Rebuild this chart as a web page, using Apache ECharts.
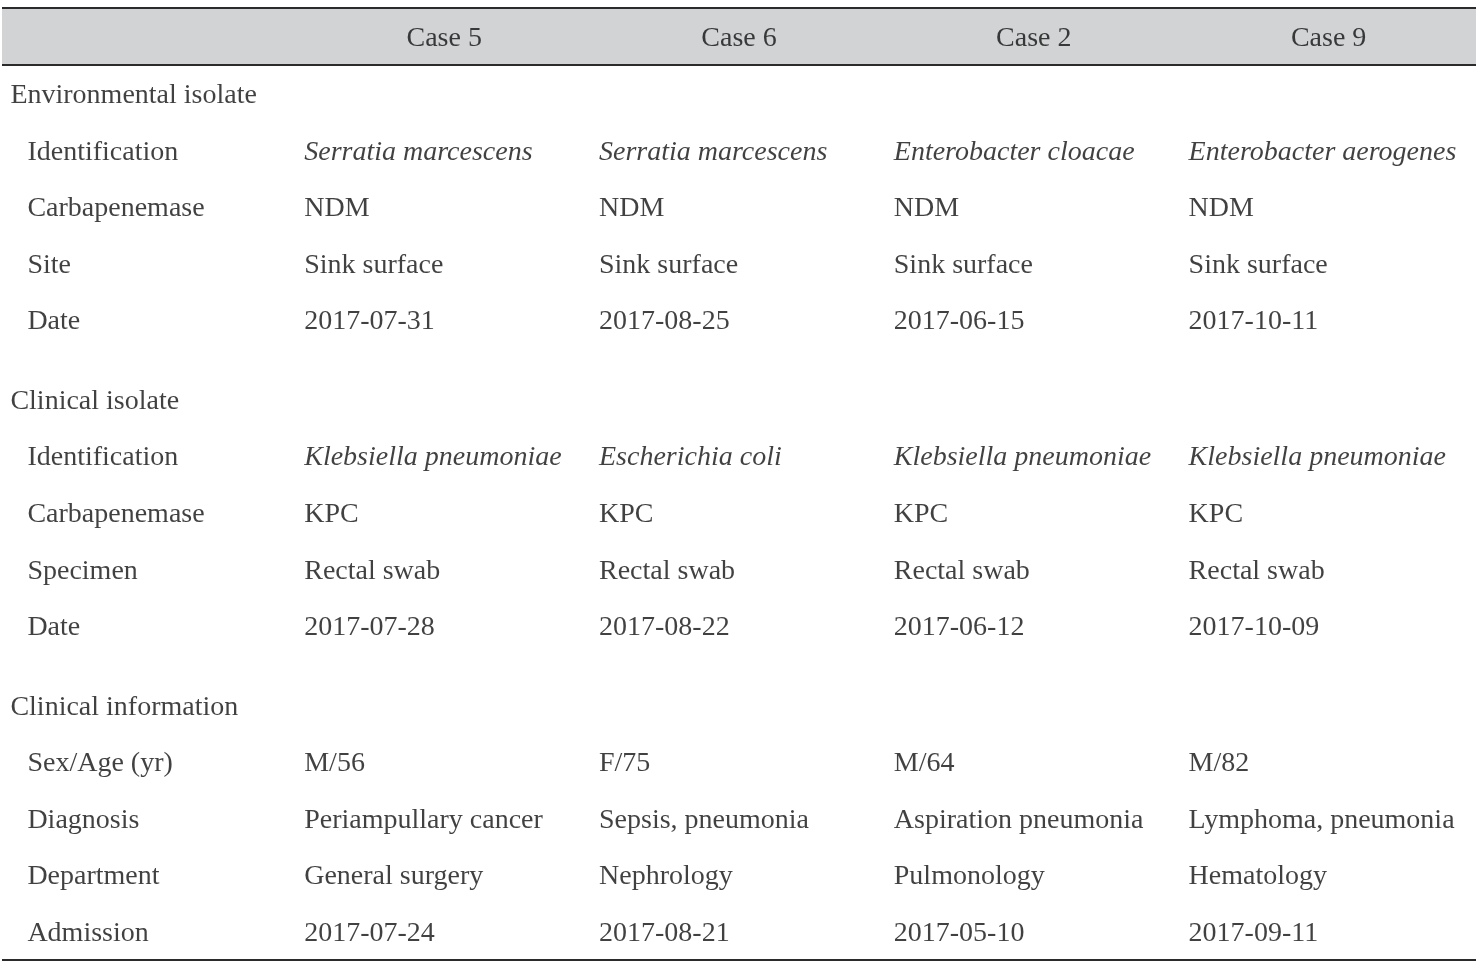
<!DOCTYPE html>
<html>
<head>
<meta charset="utf-8">
<script src="https://cdn.jsdelivr.net/npm/echarts@6/dist/echarts.min.js"></script>
<style>
html,body{margin:0;padding:0;background:#fff;}
#chart{width:1480px;height:966px;}
</style>
</head>
<body>
<div id="chart"></div>
<script>
// ---- data ----
var caseNames = ['Case 5', 'Case 6', 'Case 2', 'Case 9'];
var sections = ['Environmental isolate', 'Clinical isolate', 'Clinical information'];
var envRows = ['Identification', 'Carbapenemase', 'Site', 'Date'];
var clinRows = ['Identification', 'Carbapenemase', 'Specimen', 'Date'];
var infoRows = ['Sex/Age (yr)', 'Diagnosis', 'Department', 'Admission'];

var envIdentification = ['Serratia marcescens', 'Serratia marcescens', 'Enterobacter cloacae', 'Enterobacter aerogenes'];
var envCarbapenemase = ['NDM', 'NDM', 'NDM', 'NDM'];
var envSite = ['Sink surface', 'Sink surface', 'Sink surface', 'Sink surface'];
var envDate = ['2017-07-31', '2017-08-25', '2017-06-15', '2017-10-11'];

var clinIdentification = ['Klebsiella pneumoniae', 'Escherichia coli', 'Klebsiella pneumoniae', 'Klebsiella pneumoniae'];
var clinCarbapenemase = ['KPC', 'KPC', 'KPC', 'KPC'];
var clinSpecimen = ['Rectal swab', 'Rectal swab', 'Rectal swab', 'Rectal swab'];
var clinDate = ['2017-07-28', '2017-08-22', '2017-06-12', '2017-10-09'];

var infoSexAge = ['M/56', 'F/75', 'M/64', 'M/82'];
var infoDiagnosis = ['Periampullary cancer', 'Sepsis, pneumonia', 'Aspiration pneumonia', 'Lymphoma, pneumonia'];
var infoDepartment = ['General surgery', 'Nephrology', 'Pulmonology', 'Hematology'];
var infoAdmission = ['2017-07-24', '2017-08-21', '2017-05-10', '2017-09-11'];

// ---- layout build ----
var blocks = [
  {title: sections[0], rows: envRows, values: [envIdentification, envCarbapenemase, envSite, envDate], italicRow: 0},
  {title: sections[1], rows: clinRows, values: [clinIdentification, clinCarbapenemase, clinSpecimen, clinDate], italicRow: 0},
  {title: sections[2], rows: infoRows, values: [infoSexAge, infoDiagnosis, infoDepartment, infoAdmission], italicRow: -1}
];
var SECTION_GAP = 0.4;
var FONT = '"Liberation Serif", "Times New Roman", serif';
var TEXT = '#111111';
var cols = ['label', 'c1', 'c2', 'c3', 'c4'];

var headerData = caseNames.map(function (n, i) {
  return {value: [i + 1, 0], name: n};
});
var sectionData = [];
var rowLabelData = [];
var cellData = [];
var pos = 1;
blocks.forEach(function (b, bi) {
  sectionData.push({value: [0, pos], name: b.title});
  pos += 1;
  b.rows.forEach(function (r, ri) {
    rowLabelData.push({value: [0, pos], name: r});
    b.values[ri].forEach(function (v, ci) {
      var d = {value: [ci + 1, pos], name: v};
      if (ri === b.italicRow) d.label = {fontStyle: 'italic'};
      cellData.push(d);
    });
    pos += 1;
  });
  pos += SECTION_GAP;
});

function nameFmt(p) { return p.name; }
var baseLabel = {show: true, position: 'inside', fontFamily: FONT, fontSize: 28, color: TEXT, verticalAlign: 'middle', formatter: nameFmt};

var chart = echarts.init(document.getElementById('chart'), null, {renderer: 'canvas'});
chart.setOption({
  animation: false,
  backgroundColor: '#ffffff',
  grid: {left: 2, right: 4, top: 8, bottom: 6},
  xAxis: {type: 'category', data: cols, boundaryGap: true, show: false},
  yAxis: {type: 'value', inverse: true, min: -0.51, max: 16.3, show: false},
  series: [
    {
      type: 'scatter', symbolSize: 0.1, data: headerData,
      label: Object.assign({}, baseLabel, {align: 'center', offset: [0, 2]}),
      markArea: {
        silent: true,
        itemStyle: {color: '#d1d3d4'},
        data: [[{yAxis: -0.51}, {yAxis: 0.49}]]
      },
      markLine: {
        silent: true, symbol: 'none', label: {show: false},
        lineStyle: {color: '#2b2b2b', width: 2, type: 'solid'},
        data: [{yAxis: -0.51}, {yAxis: 0.49}, {yAxis: 16.3}]
      },
      z: 5
    },
    {
      type: 'scatter', symbolSize: 0.1, data: sectionData,
      label: Object.assign({}, baseLabel, {align: 'left', offset: [-139, 2]}), z: 5
    },
    {
      type: 'scatter', symbolSize: 0.1, data: rowLabelData,
      label: Object.assign({}, baseLabel, {align: 'left', offset: [-122, 2]}), z: 5
    },
    {
      type: 'scatter', symbolSize: 0.1, data: cellData,
      label: Object.assign({}, baseLabel, {align: 'left', offset: [-140, 2]}), z: 5
    }
  ]
});
</script>
</body>
</html>
